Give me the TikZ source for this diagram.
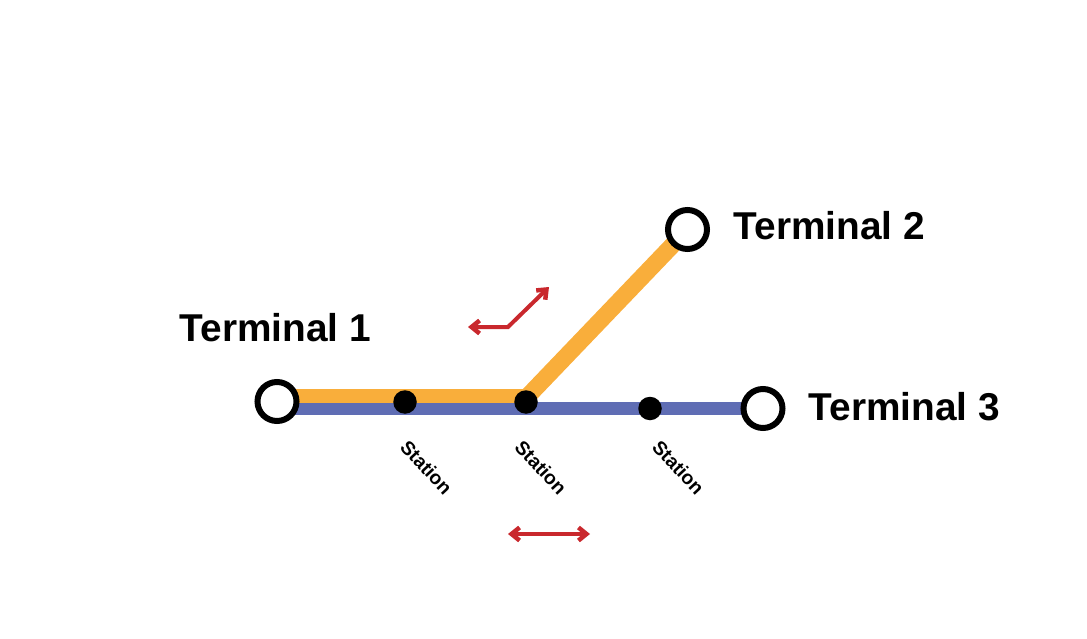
\documentclass[tikz,border=0pt]{standalone}
\usepackage{fontspec}
\setmainfont{Liberation Sans}
\usetikzlibrary{arrows.meta}
\definecolor{lineorange}{HTML}{F9AE3B}
\definecolor{lineblue}{HTML}{5F6DB4}
\definecolor{arrowred}{HTML}{C9282D}
\tikzset{
  terminal/.style={circle,draw=black,fill=white,line width=6pt,minimum size=39pt,inner sep=0pt},
  stationdot/.style={circle,fill=black,minimum size=23.5pt,inner sep=0pt},
  termlabel/.style={font=\fontsize{38.8}{42}\selectfont\bfseries,anchor=center,inner sep=0pt},
  stationlabel/.style={font=\fontsize{19.3}{22}\selectfont\bfseries,rotate=-47,anchor=center,inner sep=0pt},
  orangeline/.style={draw=lineorange,line width=14pt},
  orangediag/.style={draw=lineorange,line width=17pt},
  blueline/.style={draw=lineblue,line width=13.5pt},
  redarrow/.style={draw=arrowred,line width=4pt,{Straight Barb[length=8pt,width=13pt,line width=4.5pt]}-{Straight Barb[length=8pt,width=13pt,line width=4.5pt]}}
}
\begin{document}
\begin{tikzpicture}[x=1pt,y=-1pt]
\useasboundingbox (0,0) rectangle (1087,639);
\coordinate (t1b) at (277,408.7);
\coordinate (t3b) at (763,408.7);
\coordinate (t1o) at (277,396);
\coordinate (bend) at (526,396);
\coordinate (bendd) at (528,396);
\coordinate (t2o) at (688,229);
\draw[blueline] (t1b) -- (t3b);
\draw[orangediag] (bendd) -- (t2o);
\draw[orangeline] (t1o) -- (bend);
\node[terminal] (t1) at (277,401.5) {};
\node[terminal] (t2) at (687.5,229.5) {};
\node[terminal] (t3) at (763,408.5) {};
\node[stationdot] (s1) at (405,402) {};
\node[stationdot] (s2) at (526,402) {};
\node[stationdot] (s3) at (650,408.5) {};
\node[termlabel] (l1) at (275.5,328) {Terminal 1};
\node[termlabel] (l2) at (829.5,225.5) {Terminal 2};
\node[termlabel] (l3) at (904.5,407) {Terminal 3};
\node[stationlabel] (n1) at (426.5,467.5) {Station};
\node[stationlabel] (n2) at (541,467.5) {Station};
\node[stationlabel] (n3) at (678.5,467.5) {Station};
\coordinate (a1) at (468,327);
\coordinate (a2) at (508,327);
\coordinate (a3) at (549,287);
\coordinate (b1) at (508,534);
\coordinate (b2) at (590,534);
\draw[redarrow,line join=miter] (a1) -- (a2) -- (a3);
\draw[redarrow] (b1) -- (b2);
\end{tikzpicture}
\end{document}
